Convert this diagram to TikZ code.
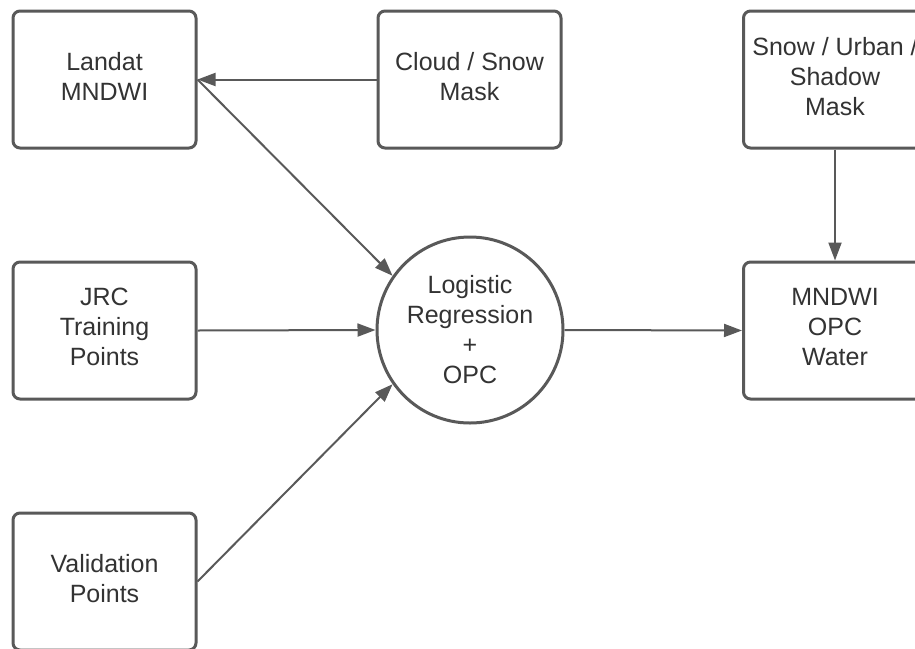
\documentclass[tikz,border=0pt]{standalone}
\usepackage{fontspec}
\setmainfont{Liberation Sans}
\usetikzlibrary{arrows.meta}
\definecolor{edge}{HTML}{595959}
\definecolor{ink}{HTML}{333333}
\begin{document}
\begin{tikzpicture}[x=1pt,y=-1pt,
  box/.style={draw=edge, line width=3pt, rounded corners=7pt, fill=white,
    minimum width=183pt, minimum height=137pt, inner sep=0pt, text depth=6.5pt,
    align=center, text=ink, font=\fontsize{25}{30}\selectfont},
  hub/.style={draw=edge, line width=3pt, circle, fill=white,
    minimum size=186pt, inner sep=0pt,
    align=center, text=ink, font=\fontsize{25}{30}\selectfont},
  flow/.style={draw=edge, line width=2pt,
    -{Triangle[length=18pt, width=13pt]}}]
\useasboundingbox (0,0) rectangle (915,648);
\node[box] (landat) at (104.5,79.5) {Landat\\MNDWI};
\node[box] (cloud) at (469.5,79.5) {Cloud / Snow\\Mask};
\node[box] (shadow) at (835,79.5) {Snow / Urban /\\Shadow\\Mask};
\node[box] (jrc) at (104.5,330.5) {JRC\\Training\\Points};
\node[hub] (lr) at (470,330) {Logistic\\Regression\\+\\OPC};
\node[box] (water) at (835,330.5) {MNDWI\\OPC\\Water};
\node[box] (valid) at (104.5,581.5) {Validation\\Points};
\draw[flow] (cloud.west) -- (landat.east);
\draw[flow] (landat.east) -- (lr.145);
\draw[flow] (jrc.east) -- (lr.west);
\draw[flow] (valid.east) -- (lr.215);
\draw[flow] (lr.east) -- (water.west);
\draw[flow] (shadow.south) -- (water.north);
\end{tikzpicture}
\end{document}
